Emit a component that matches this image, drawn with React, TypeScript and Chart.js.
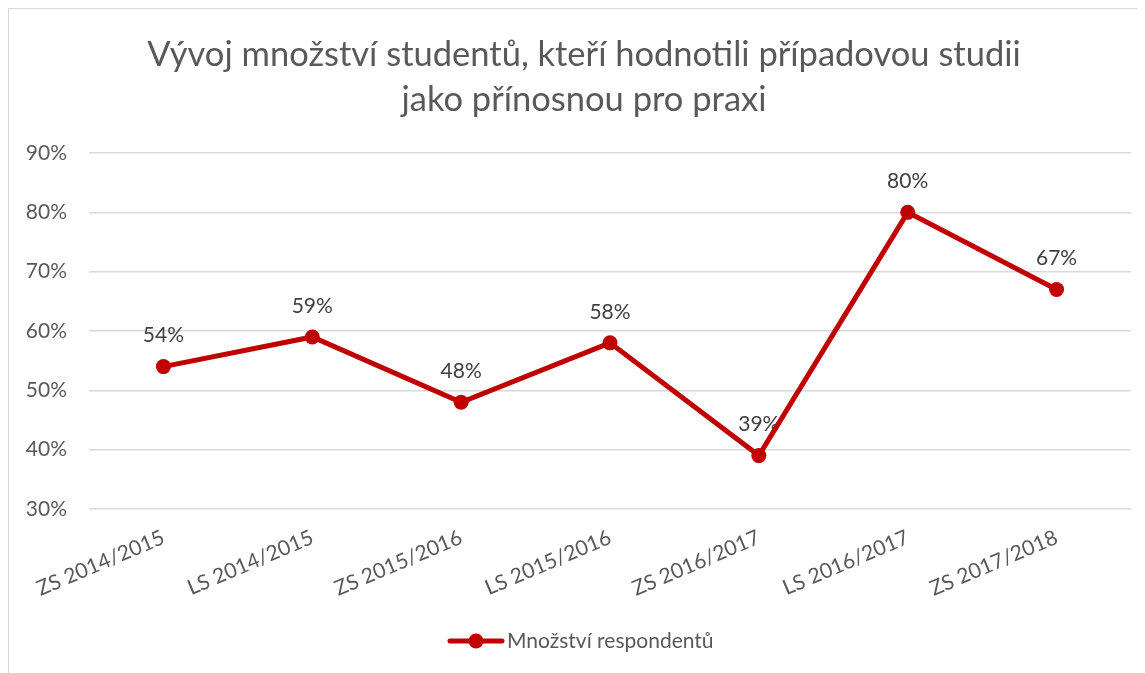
import React, { useEffect, useRef } from "react";
import { Chart, registerables } from "chart.js";

Chart.register(...registerables);

const categories = [
  "ZS 2014/2015",
  "LS 2014/2015",
  "ZS 2015/2016",
  "LS 2015/2016",
  "ZS 2016/2017",
  "LS 2016/2017",
  "ZS 2017/2018",
];
const values = [54, 59, 48, 58, 39, 80, 67];
const yMin = 30;
const yMax = 90;
const yStep = 10;
const titleLines = [
  "Vývoj množství studentů, kteří hodnotili případovou studii",
  "jako přínosnou pro praxi",
];
const seriesName = "Množství respondentů";

const FONT = "Lato, 'Open Sans', sans-serif";
const RED = "#c00000";
const TEXT = "#595959";
const LABEL = "#404040";

const CW = 1136;
const CH = 664;

const customPlugin = {
  id: "customDraw",
  beforeDatasetsDraw(chart: any) {
    const ctx = chart.ctx;
    const meta = chart.getDatasetMeta(0);
    ctx.save();
    ctx.font = `21px ${FONT}`;
    ctx.fillStyle = LABEL;
    ctx.textAlign = "center";
    ctx.textBaseline = "middle";
    meta.data.forEach((pt: any, i: number) => {
      ctx.fillText(values[i] + "%", pt.x, pt.y - 31);
    });
    ctx.restore();
  },
  afterDraw(chart: any) {
    const ctx = chart.ctx;
    ctx.save();
    // title
    ctx.font = `34.5px ${FONT}`;
    ctx.fillStyle = TEXT;
    ctx.textAlign = "center";
    ctx.textBaseline = "middle";
    ctx.fillText(titleLines[0], 575, 46);
    ctx.fillText(titleLines[1], 575, 91);
    // legend
    const ly = 632;
    ctx.strokeStyle = RED;
    ctx.lineWidth = 5;
    ctx.lineCap = "round";
    ctx.beginPath();
    ctx.moveTo(441, ly);
    ctx.lineTo(493, ly);
    ctx.stroke();
    ctx.fillStyle = RED;
    ctx.beginPath();
    ctx.arc(467, ly, 7.5, 0, Math.PI * 2);
    ctx.fill();
    ctx.font = `21px ${FONT}`;
    ctx.fillStyle = TEXT;
    ctx.textAlign = "left";
    ctx.fillText(seriesName, 498, ly);
    ctx.restore();
  },
};

export default function App() {
  const ref = useRef<HTMLCanvasElement | null>(null);

  useEffect(() => {
    document.documentElement.style.overflow = "hidden";
    document.body.style.overflow = "hidden";
    const canvas = ref.current;
    if (!canvas) return;
    const chart = new Chart(canvas, {
      type: "line",
      data: {
        labels: categories,
        datasets: [
          {
            label: seriesName,
            data: values,
            borderColor: RED,
            backgroundColor: RED,
            borderWidth: 5,
            pointRadius: 7.5,
            pointHoverRadius: 7.5,
            pointBackgroundColor: RED,
            pointBorderWidth: 0,
            tension: 0,
          },
        ],
      },
      options: {
        responsive: false,
        animation: false,
        layout: { padding: { top: 144, right: 14, bottom: 64, left: 0 } },
        plugins: {
          legend: { display: false },
          title: { display: false },
          tooltip: { enabled: false },
        },
        scales: {
          x: {
            offset: true,
            grid: { display: false },
            border: { display: false },
            ticks: {
              minRotation: 23,
              maxRotation: 23,
              color: TEXT,
              font: { size: 21, family: FONT },
              padding: 8,
            },
            afterFit: (s: any) => {
              s.height = 100;
            },
          },
          y: {
            min: yMin,
            max: yMax,
            ticks: {
              stepSize: yStep,
              color: TEXT,
              font: { size: 21, family: FONT },
              padding: 22,
              callback: (v: any) => v + "%",
            },
            grid: { color: "#d9d9d9", lineWidth: 1.5, drawTicks: false },
            border: { display: false },
            afterFit: (s: any) => {
              s.width = 80;
            },
          },
        },
      },
      plugins: [customPlugin],
    });
    return () => chart.destroy();
  }, []);

  return (
    <div
      style={{
        width: 1137,
        height: 665,
        borderLeft: "1px solid #d9d9d9",
        borderTop: "1px solid #d9d9d9",
        overflow: "hidden",
        boxSizing: "border-box",
        background: "#fff",
      }}
    >
      <canvas
        ref={ref}
        width={CW}
        height={CH}
        style={{ display: "block", width: CW, height: CH }}
      />
    </div>
  );
}
